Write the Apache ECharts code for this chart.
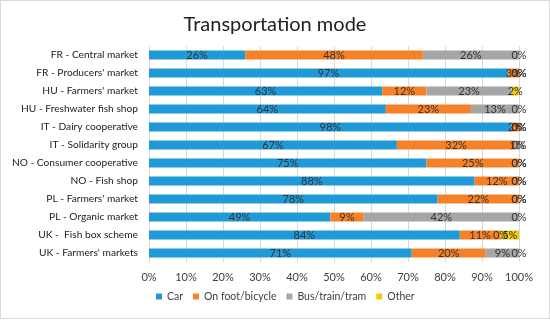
<!DOCTYPE html>
<html><head><meta charset="utf-8">
<script src="https://cdn.jsdelivr.net/npm/echarts@6/dist/echarts.min.js"></script>
<style>
html,body{margin:0;padding:0;background:#fff;}
#c{position:absolute;left:0;top:0;width:548px;height:317px;border:1px solid #d9d9d9;}
</style></head>
<body><div id="c"></div>
<script>
const categories = ["FR - Central market","FR - Producers' market","HU - Farmers' market","HU - Freshwater fish shop","IT - Dairy cooperative","IT - Solidarity group","NO - Consumer cooperative","NO - Fish shop","PL - Farmers' market","PL - Organic market","UK -  Fish box scheme","UK - Farmers' markets"];
const seriesNames = ["Car","On foot/bicycle","Bus/train/tram","Other"];
const car   = [26,97,63,64,98,67,75,88,78,49,84,71];
const foot  = [48,3,12,23,2,32,25,12,22,9,11,20];
const bus   = [26,0,23,13,0,1,0,0,0,42,0,9];
const other = [0,0,2,0,0,0,0,0,0,0,5,0];
const xTicks = [0,10,20,30,40,50,60,70,80,90,100];
const colors = ["#1f9ad6","#f58229","#a6a6a6","#f2cc0c"];

const chart = echarts.init(document.getElementById('c'));
const font = "Lato, sans-serif";
const values = [car, foot, bus, other];
chart.setOption({
  animation:false,
  title:{text:"Transportation mode",left:'center',top:9,textStyle:{fontFamily:font,fontSize:20,fontWeight:'normal',color:'#222'}},
  grid:{left:148,right:30,top:45,bottom:56,containLabel:false,outerBoundsMode:'none'},
  xAxis:{type:'value',min:0,max:100,interval:10,
    axisLabel:{formatter:v=>v+'%',fontFamily:font,fontSize:11,color:'#404040',margin:10},
    splitLine:{lineStyle:{color:'#d9d9d9'}},axisLine:{show:false},axisTick:{show:false}},
  yAxis:{type:'category',data:categories,inverse:true,
    axisLabel:{fontFamily:font,fontSize:10.2,color:'#222',margin:11},
    axisLine:{show:false},axisTick:{show:false}},
  legend:{bottom:11,left:150,itemWidth:6,itemHeight:6,itemGap:10,icon:'rect',
    textStyle:{fontFamily:font,fontSize:10.5,color:'#404040'},data:seriesNames},
  series: seriesNames.map((n,i)=>({
    name:n,type:'bar',stack:'t',barWidth:9,data:values[i],
    itemStyle:{color:colors[i]},
    label:{show:true,position:'inside',formatter:p=>p.value+'%',fontFamily:font,fontSize:11,color:'#333'}
  }))
});
</script></body></html>
